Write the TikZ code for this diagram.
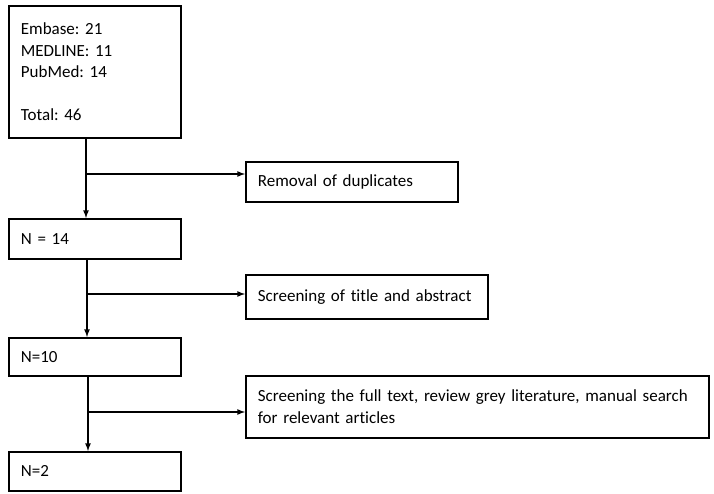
\documentclass[tikz,border=0pt]{standalone}
\usepackage{fontspec}
\setmainfont[Ligatures=NoCommon]{Carlito}
\usetikzlibrary{arrows}
\frenchspacing

\tikzset{
  stepbox/.style={draw,line width=1.8pt,anchor=north west,rectangle,
    inner xsep=12pt,align=left,text width=#1},
  flow/.style={-latex,line width=1.6pt}
}

\begin{document}
\begin{tikzpicture}[x=1pt,y=-1pt,font=\fontsize{17}{21.5}\selectfont]
                      \useasboundingbox (0,0) rectangle (714,494);
                      % counts of every stage
                      \node[stepbox=148pt,minimum height=132pt](src)at(8,5){Embase: 21\\MEDLINE: 11\\PubMed: 14\\[21.5pt]Total: 46};
                      \node[stepbox=148pt,minimum height=40pt](nfourteen)at(8,218){N = 14};
                      \node[stepbox=148pt,minimum height=38pt](nten)at(8,337){N=10};
                      \node[stepbox=148pt,minimum height=39pt](ntwo)at(8,451){N=2};
                      % what was taken out
                      \node[stepbox=188pt,minimum height=40pt](dup)at(245,161){Removal of duplicates};
                      \node[stepbox=218pt,minimum height=44pt](title)at(245,274){Screening of title and abstract};
                      \node[stepbox=439pt,minimum height=62pt](full)at(245,375){Screening the full text, review grey literature, manual search for relevant articles};
                      \coordinate(ta)at(86,174);
                      \coordinate(tb)at(87,294);
                      \coordinate(tc)at(88,412);
                      \draw[flow](ta |- src.south)--(ta |- nfourteen.north);
                      \draw[flow](ta)--(ta -| dup.west);
                      \draw[flow](tb |- nfourteen.south)--(tb |- nten.north);
                      \draw[flow](tb)--(tb -| title.west);
                      \draw[flow](tc |- nten.south)--(tc |- ntwo.north);
                      \draw[flow](tc)--(tc -| full.west);
                  \end{tikzpicture}
\end{document}
